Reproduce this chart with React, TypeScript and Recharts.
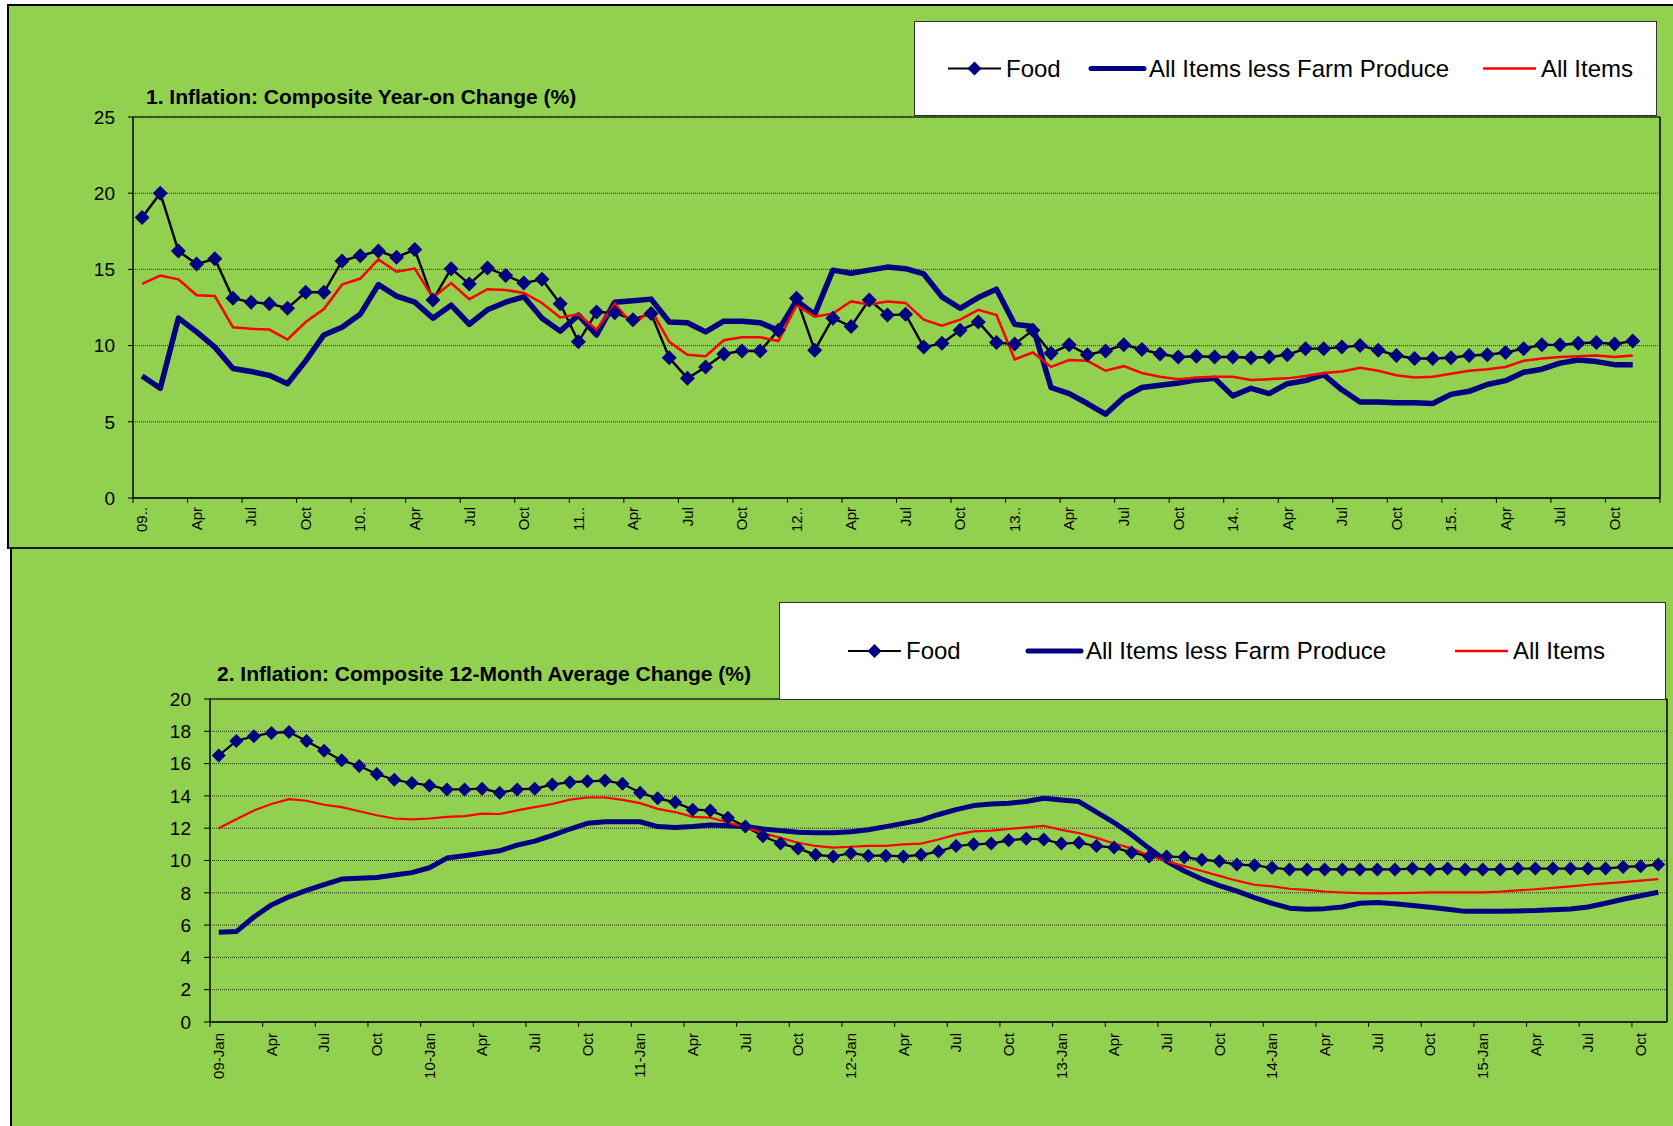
import React from "react";
import { LineChart, Line, XAxis, YAxis, CartesianGrid, ReferenceLine } from "recharts";

const FONT = '"Liberation Sans", Arial, Helvetica, sans-serif';
const GREEN = "#92D050";
const NAVY = "#000080";
const RED = "#FF0000";

// quarter tick labels, Jan 2009 .. Oct 2015
const yoyTickLabels = [
  "09..", "Apr", "Jul", "Oct", "10..", "Apr", "Jul", "Oct",
  "11..", "Apr", "Jul", "Oct", "12..", "Apr", "Jul", "Oct",
  "13..", "Apr", "Jul", "Oct", "14..", "Apr", "Jul", "Oct",
  "15..", "Apr", "Jul", "Oct",
];
const avgTickLabels = [
  "09-Jan", "Apr", "Jul", "Oct", "10-Jan", "Apr", "Jul", "Oct",
  "11-Jan", "Apr", "Jul", "Oct", "12-Jan", "Apr", "Jul", "Oct",
  "13-Jan", "Apr", "Jul", "Oct", "14-Jan", "Apr", "Jul", "Oct",
  "15-Jan", "Apr", "Jul", "Oct",
];

// 1. year-on change, monthly Jan 2009 .. Nov 2015
const yoyFood = [
  18.4, 20.0, 16.2, 15.35, 15.7, 13.1, 12.85, 12.75, 12.45, 13.5, 13.5, 15.55,
  15.9, 16.2, 15.8, 16.3, 13.0, 15.05, 14.05, 15.1, 14.6, 14.1, 14.35, 12.75,
  10.25, 12.2, 12.15, 11.7, 12.1, 9.2, 7.85, 8.6, 9.45, 9.65, 9.65, 11.0,
  13.1, 9.7, 11.8, 11.25, 13.0, 12.0, 12.05, 9.9, 10.15, 11.0, 11.55, 10.2,
  10.1, 11.0, 9.5, 10.05, 9.4, 9.65, 10.05, 9.75, 9.45, 9.25, 9.3, 9.25,
  9.25, 9.2, 9.25, 9.4, 9.8, 9.8, 9.9, 10.0, 9.7, 9.35, 9.15, 9.15,
  9.2, 9.35, 9.4, 9.55, 9.8, 10.05, 10.05, 10.15, 10.2, 10.1, 10.3,
];
const yoyCore = [
  8.0, 7.2, 11.8, 10.9, 9.9, 8.5, 8.3, 8.05, 7.5, 9.0, 10.7, 11.2,
  12.05, 14.0, 13.25, 12.85, 11.8, 12.65, 11.4, 12.35, 12.85, 13.2, 11.8, 10.95,
  12.0, 10.7, 12.85, 12.95, 13.05, 11.55, 11.5, 10.9, 11.6, 11.6, 11.5, 11.0,
  12.95, 12.05, 14.95, 14.75, 14.95, 15.15, 15.05, 14.7, 13.2, 12.45, 13.15, 13.7,
  11.4, 11.25, 7.25, 6.85, 6.2, 5.5, 6.6, 7.25, 7.4, 7.55, 7.75, 7.85,
  6.7, 7.2, 6.85, 7.5, 7.7, 8.1, 7.1, 6.3, 6.3, 6.25, 6.25, 6.2,
  6.8, 7.0, 7.45, 7.7, 8.25, 8.45, 8.85, 9.05, 8.95, 8.75, 8.75,
];
const yoyAll = [
  14.05, 14.6, 14.35, 13.3, 13.25, 11.2, 11.1, 11.05, 10.4, 11.55, 12.4, 14.0,
  14.4, 15.65, 14.85, 15.05, 13.15, 14.1, 13.05, 13.7, 13.65, 13.45, 12.8, 11.85,
  12.05, 11.05, 12.75, 11.35, 12.35, 10.25, 9.4, 9.3, 10.35, 10.55, 10.55, 10.3,
  12.65, 11.9, 12.1, 12.9, 12.7, 12.9, 12.8, 11.7, 11.3, 11.7, 12.35, 12.0,
  9.1, 9.55, 8.6, 9.05, 9.0, 8.35, 8.65, 8.2, 7.95, 7.8, 7.9, 7.95,
  7.95, 7.75, 7.8, 7.85, 8.0, 8.2, 8.3, 8.55, 8.35, 8.05, 7.9, 7.95,
  8.15, 8.35, 8.45, 8.6, 9.0, 9.15, 9.25, 9.3, 9.35, 9.25, 9.35,
];

// 2. 12-month average change, monthly Jan 2009 .. Nov 2015
const avgFood = [
  16.5, 17.4, 17.7, 17.9, 17.95, 17.4, 16.8, 16.2, 15.85, 15.35, 15.0, 14.8,
  14.65, 14.4, 14.4, 14.45, 14.2, 14.4, 14.45, 14.7, 14.85, 14.9, 14.95, 14.75,
  14.2, 13.85, 13.6, 13.15, 13.1, 12.65, 12.1, 11.5, 11.05, 10.75, 10.35, 10.25,
  10.45, 10.3, 10.3, 10.25, 10.35, 10.55, 10.9, 11.0, 11.05, 11.25, 11.35, 11.3,
  11.05, 11.1, 10.9, 10.8, 10.5, 10.25, 10.25, 10.2, 10.05, 9.95, 9.75, 9.7,
  9.55, 9.45, 9.45, 9.45, 9.45, 9.45, 9.45, 9.45, 9.5, 9.45, 9.5, 9.45,
  9.45, 9.45, 9.5, 9.5, 9.5, 9.5, 9.5, 9.5, 9.6, 9.65, 9.75,
];
const avgCore = [
  5.55, 5.6, 6.5, 7.25, 7.75, 8.15, 8.5, 8.85, 8.9, 8.95, 9.1, 9.25,
  9.55, 10.15, 10.3, 10.45, 10.6, 10.95, 11.2, 11.55, 11.95, 12.3, 12.4, 12.4,
  12.4, 12.1, 12.05, 12.1, 12.2, 12.15, 12.1, 11.95, 11.85, 11.75, 11.72, 11.72,
  11.78, 11.9, 12.1, 12.3, 12.5, 12.85, 13.15, 13.4, 13.5, 13.55, 13.65, 13.85,
  13.75, 13.65, 13.0, 12.35, 11.6, 10.75, 9.95, 9.35, 8.85, 8.45, 8.1, 7.7,
  7.35, 7.05, 6.98, 7.02, 7.12, 7.35, 7.4, 7.32, 7.22, 7.1, 6.98, 6.85,
  6.85, 6.85, 6.88, 6.9, 6.95, 7.0, 7.12, 7.35, 7.6, 7.82, 8.03,
];
const avgAll = [
  12.0, 12.55, 13.1, 13.5, 13.8, 13.7, 13.45, 13.3, 13.05, 12.8, 12.6, 12.55,
  12.6, 12.7, 12.75, 12.9, 12.88, 13.1, 13.3, 13.5, 13.77, 13.9, 13.9, 13.75,
  13.55, 13.2, 13.0, 12.7, 12.65, 12.35, 12.05, 11.7, 11.4, 11.1, 10.9, 10.8,
  10.85, 10.9, 10.9, 11.0, 11.05, 11.3, 11.6, 11.8, 11.85, 11.95, 12.05, 12.15,
  11.9, 11.7, 11.4, 11.05, 10.75, 10.3, 9.95, 9.65, 9.35, 9.05, 8.75, 8.5,
  8.4, 8.25, 8.18, 8.08, 8.02, 7.98, 7.97, 7.98, 8.0, 8.03, 8.03, 8.03,
  8.03, 8.07, 8.15, 8.22, 8.3, 8.4, 8.5, 8.58, 8.66, 8.75, 8.85,
];

const toRows = (food: number[], core: number[], all: number[]) =>
  food.map((v, i) => ({ m: i + 0.5, food: v, core: core[i], all: all[i] }));

const diamond = (size: number) => (p: any) => {
  const { cx, cy, index } = p;
  if (cx == null || cy == null) return <g key={index} />;
  const h = size / 2;
  return (
    <polygon
      key={index}
      points={`${cx},${cy - h} ${cx + h},${cy} ${cx},${cy + h} ${cx - h},${cy}`}
      fill={NAVY}
    />
  );
};

const XTick = (props: any) => {
  const { x, y, payload, labels, half } = props;
  const label = labels[Math.round(payload.value / 3)];
  if (!label) return <g />;
  return (
    <text
      transform={`translate(${x + half},${y}) rotate(-90)`}
      textAnchor="end"
      dy="0.35em"
      fontSize={15}
      fontFamily={FONT}
      fill="#000"
    >
      {label}
    </text>
  );
};

interface LegendProps {
  left: number;
  top: number;
  width: number;
  height: number;
  xs: number[]; // food line start, navy line start, red line start
  coreWidth: number;
}

function LegendBox({ left, top, width, height, xs, coreWidth }: LegendProps) {
  const cy = height / 2;
  const seg = 53;
  const items = [
    { name: "Food", color: "#000", w: 2 },
    { name: "All Items less Farm Produce", color: NAVY, w: coreWidth },
    { name: "All Items", color: RED, w: 2.5 },
  ];
  return (
    <div
      style={{
        position: "absolute", left, top, width, height, background: "#fff",
        border: "1px solid #333", boxSizing: "border-box",
      }}
    >
      <svg width={width} height={height} style={{ position: "absolute", left: -1, top: -1 }}>
        {items.map((it, i) => (
          <g key={it.name}>
            <line x1={xs[i]} x2={xs[i] + seg} y1={cy} y2={cy} stroke={it.color}
              strokeWidth={it.w} strokeLinecap={i === 1 ? "round" : "butt"} />
            {i === 0 && diamond(14)({ cx: xs[0] + seg / 2, cy, index: 0 })}
            <text x={xs[i] + seg + 5} y={cy} dy="0.35em" fontSize={24} fontFamily={FONT} fill="#000">
              {it.name}
            </text>
          </g>
        ))}
      </svg>
    </div>
  );
}

interface ChartProps {
  top: number;
  height: number;
  rows: any[];
  months: number;
  yMax: number;
  yStep: number;
  labels: string[];
  margin: { top: number; right: number; bottom: number; left: number };
  xAxisHeight: number;
  xTickMargin: number;
  yTickSize: number;
  lineWidths: { food: number; core: number; all: number };
  dot: number;
}

const W = 1673;
const Y_AXIS_W = 60;

function InflationChart(c: ChartProps) {
  const plotW = W - c.margin.left - Y_AXIS_W - c.margin.right;
  const half = plotW / c.months / 2;
  const xTicks = Array.from({ length: Math.floor(c.months / 3) + 1 }, (_, i) => i * 3).filter((t) => t <= c.months);
  const yTicks = Array.from({ length: c.yMax / c.yStep + 1 }, (_, i) => i * c.yStep);
  return (
    <div style={{ position: "absolute", left: 0, top: c.top }}>
      <LineChart width={W} height={c.height} data={c.rows} margin={c.margin}>
        <CartesianGrid horizontal vertical={false} stroke="#2a2a2a" strokeDasharray="1 1" />
        <XAxis
          dataKey="m" type="number" domain={[0, c.months]} ticks={xTicks} interval={0}
          height={c.xAxisHeight} axisLine={{ stroke: "#000", strokeWidth: 1.5 }}
          tickLine={{ stroke: "#000" }} tickSize={5} tickMargin={c.xTickMargin}
          tick={<XTick labels={c.labels} half={half} />}
        />
        <YAxis
          type="number" domain={[0, c.yMax]} ticks={yTicks} interval={0} width={Y_AXIS_W}
          axisLine={{ stroke: "#000", strokeWidth: 1.5 }} tickLine={{ stroke: "#000" }}
          tickSize={c.yTickSize} tickMargin={13}
          tick={{ fontSize: 19, fill: "#000", fontFamily: FONT }}
        />
        <ReferenceLine y={c.yMax} stroke="#000" strokeWidth={1.2} />
        <ReferenceLine x={c.months} stroke="#000" strokeWidth={1.5} />
        <Line dataKey="food" stroke="#000" strokeWidth={c.lineWidths.food} dot={false}
          activeDot={false} isAnimationActive={false} />
        <Line dataKey="core" stroke={NAVY} strokeWidth={c.lineWidths.core} dot={false}
          activeDot={false} isAnimationActive={false} strokeLinejoin="round" />
        <Line dataKey="all" stroke={RED} strokeWidth={c.lineWidths.all} dot={false}
          activeDot={false} isAnimationActive={false} />
        <Line dataKey="food" stroke="none" dot={diamond(c.dot)} activeDot={false}
          isAnimationActive={false} legendType="none" />
      </LineChart>
    </div>
  );
}

export default function App() {
  return (
    <div style={{ position: "absolute", left: 0, top: 0, width: W, height: 1126, background: "#fff", overflow: "hidden" }}>
      {/* panel 1 */}
      <div
        style={{
          position: "absolute", left: 7, top: 4, width: 1700, height: 545, background: GREEN,
          borderTop: "2px solid #000", borderLeft: "2px solid #000", borderBottom: "2px solid #1a1a1a",
          boxSizing: "border-box",
        }}
      />
      {/* panel 2 */}
      <div
        style={{
          position: "absolute", left: 10, top: 549, width: 1700, height: 600, background: GREEN,
          borderLeft: "2px solid #000", boxSizing: "border-box",
        }}
      />

      <div style={{ position: "absolute", left: 146, top: 85, fontFamily: FONT, fontWeight: "bold", fontSize: 21, lineHeight: "24px", color: "#000", whiteSpace: "nowrap" }}>
        1. Inflation: Composite Year-on Change (%)
      </div>
      <div style={{ position: "absolute", left: 217, top: 662, fontFamily: FONT, fontWeight: "bold", fontSize: 21, lineHeight: "24px", color: "#000", whiteSpace: "nowrap" }}>
        2. Inflation: Composite 12-Month Average Change (%)
      </div>

      <InflationChart
        top={0} height={548} rows={toRows(yoyFood, yoyCore, yoyAll)} months={84}
        yMax={25} yStep={5} labels={yoyTickLabels}
        margin={{ top: 117, right: 13, bottom: 5, left: 73 }}
        xAxisHeight={45} xTickMargin={4} yTickSize={5}
        lineWidths={{ food: 2.4, core: 5.5, all: 2.5 }} dot={15}
      />
      <InflationChart
        top={548} height={578} rows={toRows(avgFood, avgCore, avgAll)} months={83}
        yMax={20} yStep={2} labels={avgTickLabels}
        margin={{ top: 151, right: 6, bottom: 44, left: 150 }}
        xAxisHeight={60} xTickMargin={6} yTickSize={6}
        lineWidths={{ food: 2.2, core: 5, all: 2.2 }} dot={14}
      />

      <LegendBox left={914} top={21} width={743} height={95} xs={[34, 177, 569]} coreWidth={5} />
      <LegendBox left={779} top={602} width={887} height={98} xs={[69, 249, 676]} coreWidth={5} />
    </div>
  );
}
